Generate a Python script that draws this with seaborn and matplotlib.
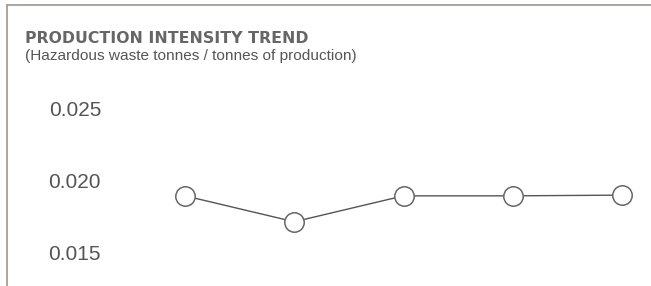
import matplotlib
matplotlib.use("Agg")
import matplotlib.pyplot as plt
import seaborn as sns
import pandas as pd
from matplotlib.lines import Line2D

periods = ["P1", "P2", "P3", "P4", "P5"]
intensity = [0.0189, 0.0171, 0.0189, 0.0189, 0.01895]
y_ticks = [0.015, 0.020, 0.025]
y_tick_labels = ["0.015", "0.020", "0.025"]

sns.set_theme(style="white")
plt.rcParams["font.family"] = ["Liberation Sans", "DejaVu Sans"]

W, H = 651, 286
fig = plt.figure(figsize=(W / 100, H / 100), dpi=100)
ax = fig.add_axes([108 / W, 0, (W - 108) / W, 1])

df = pd.DataFrame({"period": range(len(periods)), "value": intensity})
sns.lineplot(data=df, x="period", y="value", ax=ax, color="#555555", linewidth=1.0,
             marker="o", markersize=14, markerfacecolor="white",
             markeredgecolor="#666666", markeredgewidth=1.1)

ax.set_xlim(-0.7048, 4.265)
ax.set_ylim(0.012639, 0.0325)
ax.set_yticks(y_ticks)
ax.set_yticklabels(y_tick_labels)
ax.set_xticks([])
ax.set_xlabel("")
ax.set_ylabel("")
for s in ax.spines.values():
    s.set_visible(False)
ax.tick_params(axis="y", length=0, pad=5, labelsize=15, labelcolor="#555555")
for lab in ax.get_yticklabels():
    lab.set_horizontalalignment("right")

# frame lines (top and left)
fig.add_artist(Line2D([6.5 / W, 1], [1 - 5 / H, 1 - 5 / H], transform=fig.transFigure,
                      color="#9d958f", linewidth=1.2))
fig.add_artist(Line2D([6.5 / W, 6.5 / W], [0, 1 - 5 / H], transform=fig.transFigure,
                      color="#9d958f", linewidth=1.2))

fig.text(25 / W, 1 - 38.5 / H, "PRODUCTION INTENSITY TREND", fontsize=11.3, fontweight="bold",
         color="#666666", va="center", ha="left", family=["DejaVu Sans"])
fig.text(25 / W, 1 - 56.5 / H, "(Hazardous waste tonnes / tonnes of production)", fontsize=11.1,
         color="#555555", va="center", ha="left")

fig.savefig("out.png", dpi=100)
